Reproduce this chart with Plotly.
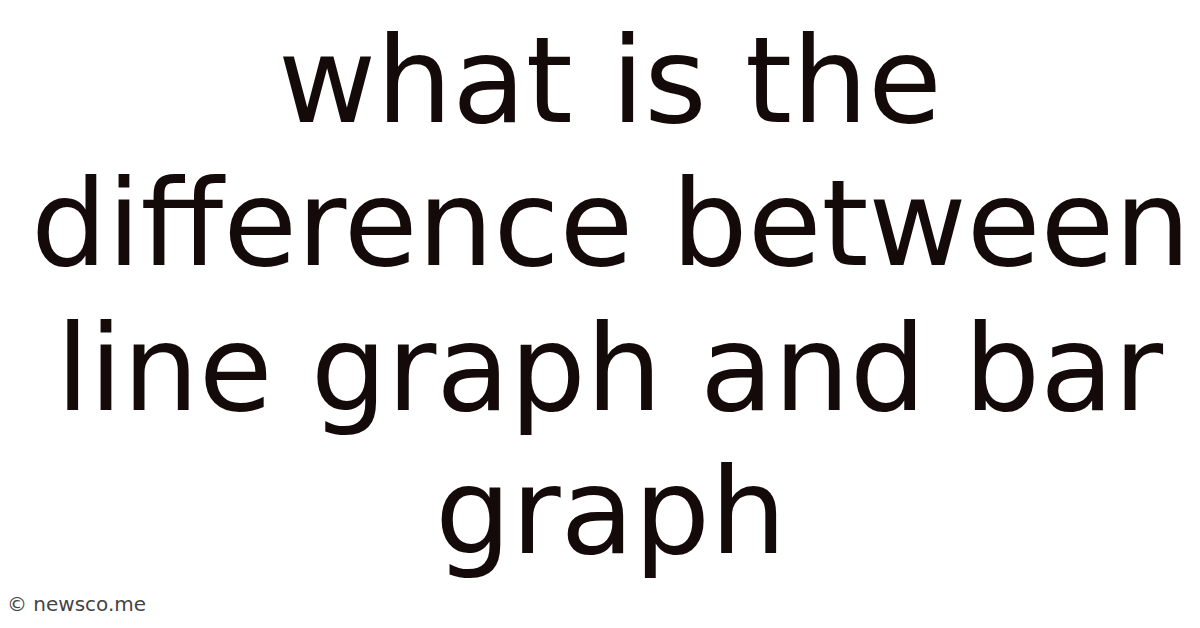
import plotly.graph_objects as go

title_lines = ["what is the", "difference between", "line graph and bar", "graph"]
baselines = [122, 265, 410, 553]
watermark = "© newsco.me"

W, H = 1200, 628
FONT_SIZE = 120
TEXT_COLOR = "#140a0a"

fig = go.Figure()
annotations = []
for line, base in zip(title_lines, baselines):
    annotations.append(dict(
        x=W / 2 + 2, y=base - 0.35 * FONT_SIZE - 8, xref="x", yref="y",
        text=line, showarrow=False, xanchor="center", yanchor="middle",
        font=dict(family="DejaVu Sans", size=FONT_SIZE, color=TEXT_COLOR),
    ))
annotations.append(dict(
    x=0, y=596, xref="paper", yref="y", xshift=-3, text=watermark, showarrow=False,
    xanchor="left", yanchor="middle",
    font=dict(family="DejaVu Sans", size=20, color="#444444"),
))

fig.update_layout(
    width=W, height=H,
    margin=dict(l=0, r=0, t=0, b=0),
    paper_bgcolor="white", plot_bgcolor="white",
    xaxis=dict(range=[0, W], visible=False, fixedrange=True),
    yaxis=dict(range=[H, 0], visible=False, fixedrange=True),
    annotations=annotations,
    showlegend=False,
)
fig.write_html("out.html", config={"displayModeBar": False})
